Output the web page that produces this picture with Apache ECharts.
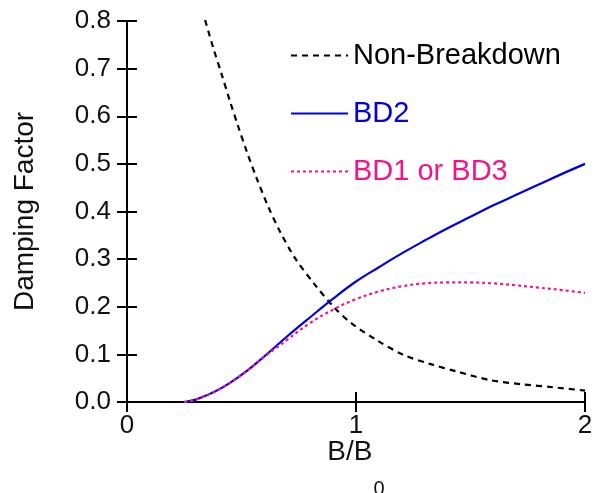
<!DOCTYPE html>
<html>
<head>
<meta charset="utf-8">
<script src="https://cdn.jsdelivr.net/npm/echarts@6/dist/echarts.min.js"></script>
<style>html,body{margin:0;padding:0;background:#fff;}#c{width:601px;height:493px;}</style>
</head>
<body>
<div id="c"></div>
<script>
var nonBreakdownB = [0.341, 0.377, 0.414, 0.45, 0.486, 0.523, 0.566, 0.617, 0.668, 0.734, 0.821, 0.908, 0.981, 1.09, 1.207, 1.323, 1.44, 1.585, 1.73, 1.86, 2.0];
var nonBreakdownV = [0.802, 0.743, 0.687, 0.631, 0.578, 0.526, 0.470, 0.410, 0.358, 0.302, 0.246, 0.197, 0.165, 0.130, 0.099, 0.080, 0.064, 0.046, 0.037, 0.031, 0.024];
var bd2B = [0.25, 0.3, 0.4, 0.5, 0.6, 0.7, 0.8, 0.9, 1.0, 1.1, 1.2, 1.3, 1.4, 1.5, 1.6, 1.7, 1.8, 1.9, 2.0];
var bd2V = [0, 0.005, 0.026, 0.057, 0.096, 0.138, 0.178, 0.217, 0.253, 0.283, 0.312, 0.339, 0.365, 0.389, 0.413, 0.435, 0.457, 0.479, 0.50];
var bd13B = [0.25, 0.3, 0.4, 0.5, 0.6, 0.7, 0.8, 0.9, 1.0, 1.1, 1.2, 1.3, 1.4, 1.5, 1.6, 1.7, 1.8, 1.9, 2.0];
var bd13V = [0, 0.005, 0.026, 0.057, 0.095, 0.131, 0.166, 0.194, 0.216, 0.232, 0.243, 0.249, 0.251, 0.251, 0.249, 0.245, 0.240, 0.235, 0.229];
var seriesNames = ['Non-Breakdown', 'BD2', 'BD1 or BD3'];
var seriesColors = ['#000000', '#0000dd', '#f0168a'];

function zip(a, b) { return a.map(function (v, i) { return [v, b[i]]; }); }

var FONT = 'Liberation Sans';
var axisLine = { lineStyle: { color: '#000', width: 2 } };
var tick = { inside: true, length: 10, lineStyle: { width: 2, color: '#000' } };
var chart = echarts.init(document.getElementById('c'));
chart.setOption({
  animation: false,
  backgroundColor: '#fff',
  grid: { left: 127, right: 16, top: 21, bottom: 91, containLabel: false, outerBoundsMode: 'none' },
  legend: {
    orient: 'vertical',
    left: 285, top: 36,
    itemWidth: 57, itemHeight: 14, itemGap: 29,
    itemStyle: { opacity: 0 },
    textStyle: { fontFamily: FONT, fontSize: 29 },
    data: seriesNames.map(function (n, i) { return { name: n, textStyle: { color: seriesColors[i] } }; })
  },
  xAxis: [{
    type: 'value', min: 0, max: 2, interval: 1, position: 'bottom',
    axisLine: axisLine, splitLine: { show: false }, axisTick: tick,
    axisLabel: { fontFamily: FONT, fontSize: 26, color: '#111', margin: 11 },
    name: '{m|B/B}{s|0}', nameLocation: 'middle', nameGap: 36, nameMoveOverlap: false,
    nameTextStyle: {
      fontFamily: FONT, fontSize: 28, color: '#111',
      rich: {
        m: { fontFamily: FONT, fontSize: 28, color: '#111', verticalAlign: 'top' },
        s: { fontFamily: FONT, fontSize: 20, color: '#111', verticalAlign: 'top', padding: [41, 0, 0, 1] }
      }
    }
  }, {
    type: 'value', min: 0, max: 2, interval: 1, position: 'top',
    axisLine: axisLine, splitLine: { show: false }, axisTick: tick,
    axisLabel: { show: false }
  }],
  yAxis: [{
    type: 'value', min: 0, max: 0.8, interval: 0.1, position: 'left',
    axisLine: axisLine, splitLine: { show: false }, axisTick: tick,
    axisLabel: { fontFamily: FONT, fontSize: 26, color: '#111', margin: 16, formatter: function (v) { return v.toFixed(1); } },
    name: 'Damping Factor', nameLocation: 'middle', nameGap: 88, nameRotate: 90, nameMoveOverlap: false,
    nameTextStyle: { fontFamily: FONT, fontSize: 28, color: '#111' }
  }, {
    type: 'value', min: 0, max: 0.8, interval: 0.1, position: 'right',
    axisLine: axisLine, splitLine: { show: false }, axisTick: tick,
    axisLabel: { show: false }
  }],
  series: [{
    name: seriesNames[0], type: 'line', smooth: 0.3, symbol: 'none', color: seriesColors[0],
    lineStyle: { width: 2.2, type: [6, 5], color: seriesColors[0] },
    data: zip(nonBreakdownB, nonBreakdownV)
  }, {
    name: seriesNames[1], type: 'line', smooth: 0.4, symbol: 'none', color: seriesColors[1],
    lineStyle: { width: 2.2, type: 'solid', color: seriesColors[1] },
    data: zip(bd2B, bd2V)
  }, {
    name: seriesNames[2], type: 'line', smooth: 0.4, symbol: 'none', color: seriesColors[2],
    lineStyle: { width: 2.2, type: [3, 3], color: seriesColors[2] },
    data: zip(bd13B, bd13V)
  }]
});
</script>
</body>
</html>
